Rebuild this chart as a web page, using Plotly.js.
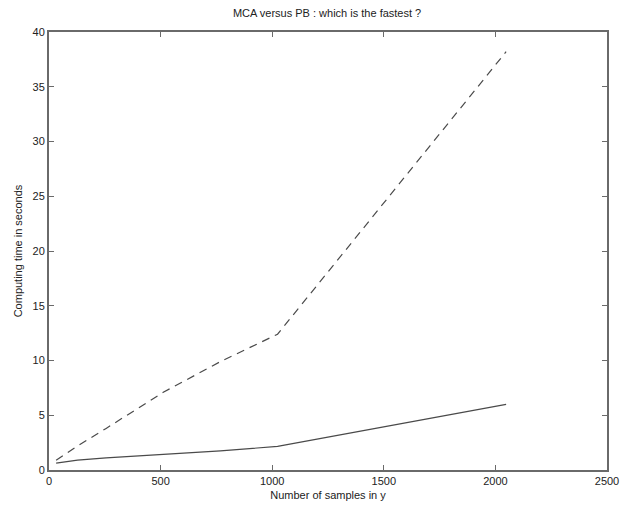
<!DOCTYPE html>
<html>
<head>
<meta charset="utf-8">
<script src="https://cdn.plot.ly/plotly-3.0.1.min.js"></script>
<style>
  html, body { margin: 0; padding: 0; background: #fff; }
  #chart { width: 629px; height: 512px; }
</style>
</head>
<body>
<div id="chart"></div>
<script>
// Signal sizes (number of samples in y)
const samples = [32, 128, 256, 512, 768, 1024, 2048];

// Computing time in seconds for each method
const timeSolid  = [0.62, 0.9, 1.1, 1.4, 1.75, 2.15, 6.0];
const timeDashed = [0.9, 2.2, 3.8, 7.1, 9.9, 12.4, 38.2];

const xTicks = [0, 500, 1000, 1500, 2000, 2500];
const yTicks = [0, 5, 10, 15, 20, 25, 30, 35, 40];

const lineColor = '#4a4a4a';
const axisColor = '#6a6a6a';
const font = { family: 'Liberation Sans, Arial, sans-serif', size: 11, color: '#222' };

const traces = [
  { x: samples, y: timeDashed, mode: 'lines', line: { color: lineColor, width: 1.2, dash: '8px,6px' }, hoverinfo: 'skip' },
  { x: samples, y: timeSolid,  mode: 'lines', line: { color: lineColor, width: 1.2 }, hoverinfo: 'skip' }
];

const axisCommon = {
  showgrid: false, zeroline: false,
  showline: true, linecolor: axisColor, linewidth: 2, mirror: 'ticks',
  ticks: 'inside', ticklen: 5, tickcolor: axisColor, tickwidth: 1,
  tickfont: font
};

const layout = {
  width: 629, height: 512,
  margin: { l: 49, r: 22, t: 32, b: 42 },
  paper_bgcolor: '#fff', plot_bgcolor: '#fff',
  showlegend: false,
  font: font,
  title: { text: 'MCA versus PB : which is the fastest ?', font: font, x: 0.52, xanchor: 'center', y: 0.975, yanchor: 'middle' },
  xaxis: Object.assign({}, axisCommon, {
    range: [0, 2500], tickmode: 'array', tickvals: xTicks, ticktext: xTicks.map(String),
    title: { text: 'Number of samples in y', font: font, standoff: 5 }
  }),
  yaxis: Object.assign({}, axisCommon, {
    range: [0, 40], tickmode: 'array', tickvals: yTicks, ticktext: yTicks.map(String),
    title: { text: 'Computing time in seconds', font: font, standoff: 8 }
  })
};

Plotly.newPlot('chart', traces, layout, { staticPlot: true, displayModeBar: false });
</script>
</body>
</html>
